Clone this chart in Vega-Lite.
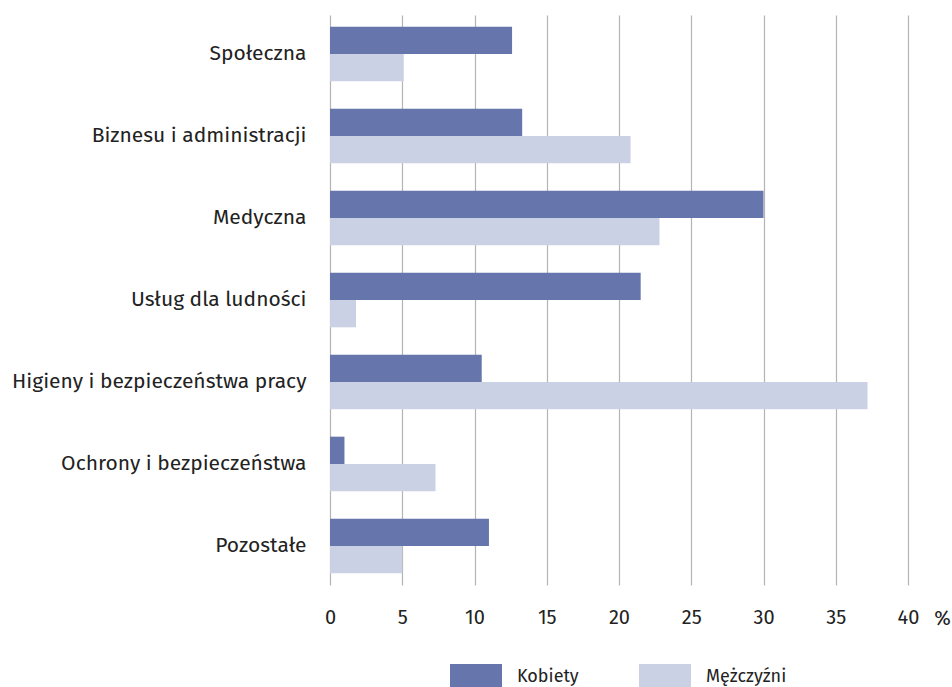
{
  "$schema": "https://vega.github.io/schema/vega-lite/v6.json",
  "autosize": {"type": "none"},
  "width": 578,
  "height": 570,
  "padding": {"left": 330, "top": 15, "right": 44, "bottom": 102},
  "background": "white",
  "config": {
    "view": {"stroke": null},
    "font": "Fira Sans, Noto Sans, sans-serif"
  },
  "data": {
    "values": [
      {"kategoria": "Społeczna", "plec": "Kobiety", "wartosc": 12.6},
      {"kategoria": "Społeczna", "plec": "Mężczyźni", "wartosc": 5.1},
      {"kategoria": "Biznesu i administracji", "plec": "Kobiety", "wartosc": 13.3},
      {"kategoria": "Biznesu i administracji", "plec": "Mężczyźni", "wartosc": 20.8},
      {"kategoria": "Medyczna", "plec": "Kobiety", "wartosc": 30.0},
      {"kategoria": "Medyczna", "plec": "Mężczyźni", "wartosc": 22.8},
      {"kategoria": "Usług dla ludności", "plec": "Kobiety", "wartosc": 21.5},
      {"kategoria": "Usług dla ludności", "plec": "Mężczyźni", "wartosc": 1.8},
      {"kategoria": "Higieny i bezpieczeństwa pracy", "plec": "Kobiety", "wartosc": 10.5},
      {"kategoria": "Higieny i bezpieczeństwa pracy", "plec": "Mężczyźni", "wartosc": 37.2},
      {"kategoria": "Ochrony i bezpieczeństwa", "plec": "Kobiety", "wartosc": 1.0},
      {"kategoria": "Ochrony i bezpieczeństwa", "plec": "Mężczyźni", "wartosc": 7.3},
      {"kategoria": "Pozostałe", "plec": "Kobiety", "wartosc": 11.0},
      {"kategoria": "Pozostałe", "plec": "Mężczyźni", "wartosc": 5.0}
    ]
  },
  "mark": {"type": "bar"},
  "encoding": {
    "y": {
      "field": "kategoria",
      "type": "nominal",
      "sort": null,
      "scale": {"paddingInner": 0.334, "paddingOuter": 0.143},
      "axis": {
        "title": null,
        "domain": false,
        "ticks": false,
        "grid": false,
        "labelFontSize": 21,
        "labelLimit": 400,
        "labelColor": "#222222",
        "labelPadding": 24,
        "labelFont": "Fira Sans, Noto Sans, sans-serif"
      }
    },
    "yOffset": {
      "field": "plec",
      "type": "nominal",
      "sort": ["Kobiety", "Mężczyźni"],
      "scale": {"paddingInner": 0, "paddingOuter": 0}
    },
    "x": {
      "field": "wartosc",
      "type": "quantitative",
      "scale": {"domain": [0, 40], "nice": false},
      "axis": {
        "values": [0, 5, 10, 15, 20, 25, 30, 35, 40],
        "title": "%",
        "titleFontSize": 20,
        "titleFontWeight": "normal",
        "titleColor": "#222222",
        "titleAnchor": "end",
        "titleAlign": "center",
        "titleBaseline": "middle",
        "titleX": 612,
        "titleY": 33,
        "domain": false,
        "ticks": false,
        "grid": true,
        "gridColor": "#b4b4b4",
        "gridWidth": 1.2,
        "labelFlush": false,
        "labelFontSize": 20,
        "labelColor": "#222222",
        "labelPadding": 22,
        "labelFont": "Fira Sans, Noto Sans, sans-serif"
      }
    },
    "color": {
      "field": "plec",
      "type": "nominal",
      "sort": ["Kobiety", "Mężczyźni"],
      "scale": {"domain": ["Kobiety", "Mężczyźni"], "range": ["#6675ab", "#cbd1e4"]},
      "legend": {
        "title": null,
        "orient": "none",
        "direction": "horizontal",
        "legendX": 120,
        "legendY": 636,
        "symbolType": "M-1,-0.5H1V0.5H-1Z",
        "symbolSize": 2704,
        "symbolStrokeWidth": 0,
        "symbolOpacity": 1,
        "labelFontSize": 18,
        "labelColor": "#222222",
        "labelOffset": 15,
        "columnPadding": 60,
        "labelFont": "Fira Sans, Noto Sans, sans-serif"
      }
    }
  }
}
